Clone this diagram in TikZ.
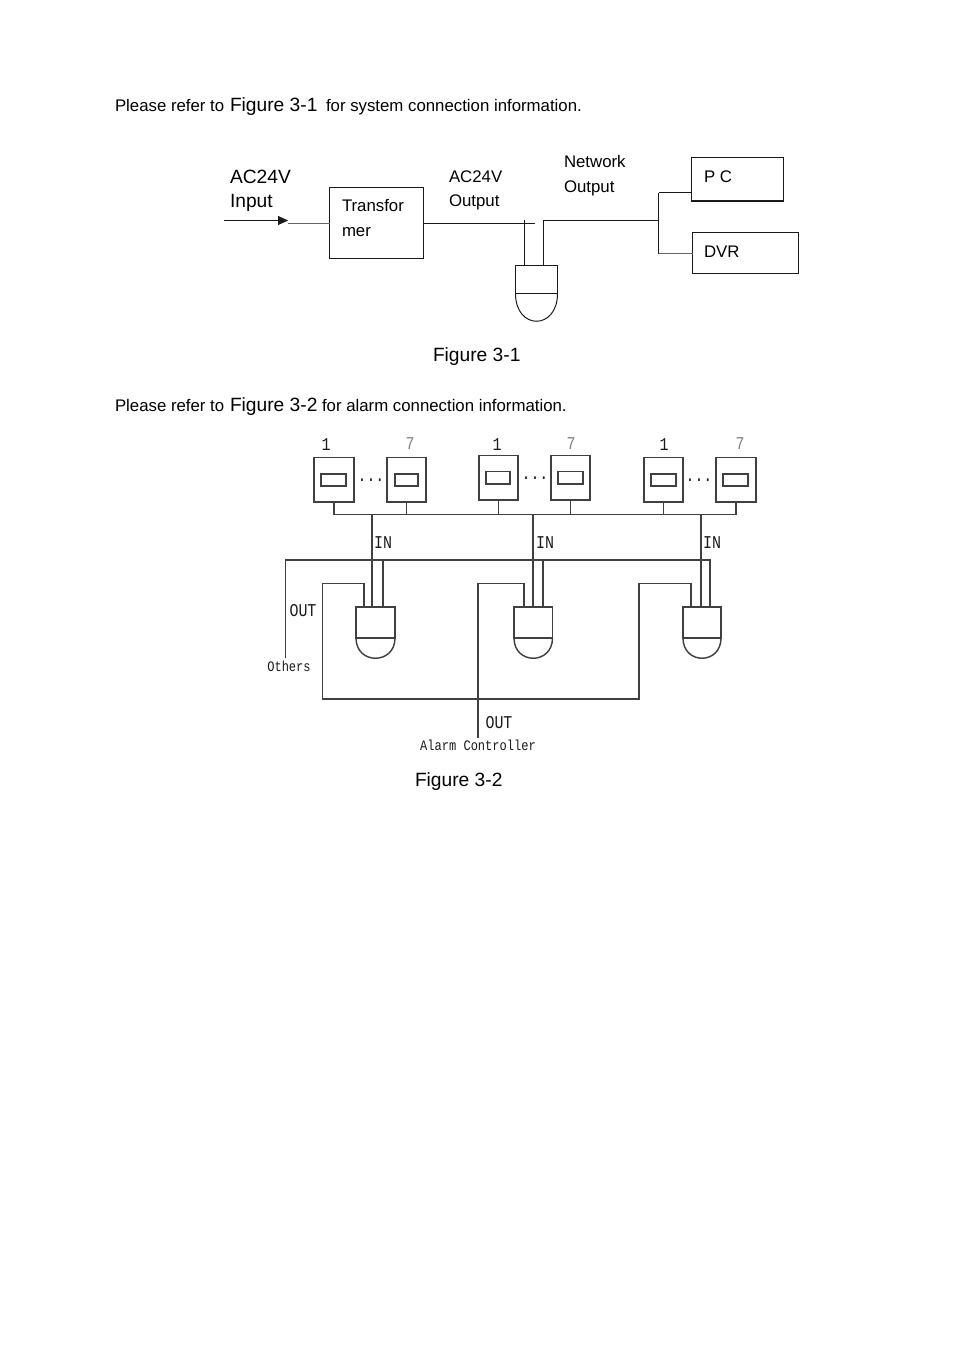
\documentclass[tikz,border=0pt]{standalone}
\usepackage{fontspec}
\setmainfont{Liberation Sans}
\newfontfamily\pixfont[FakeStretch=0.83]{Liberation Mono}
\usetikzlibrary{arrows.meta}
\definecolor{ink}{HTML}{1A1A1A}
\definecolor{soft}{HTML}{404040}
\newcommand{\mkbox}[5]{\node[boxn,minimum width=#4-#2,minimum height=#5-#3] (#1) at ({(#2+#4)/2},{(#3+#5)/2}) {};}
\newcommand{\mkdome}[6]{\node[boxn,minimum width=#3-#2,minimum height=#5-#4] (#1) at ({(#2+#3)/2},{(#4+#5)/2}) {};
 \draw[wire] (#1.south west) .. controls +(0,#6) and +(0,#6) .. (#1.south east);}
\tikzset{
 x=1pt,y=-1pt,
 wire/.style={draw=ink,line width=1pt},
 boxn/.style={draw=ink,line width=1pt,fill=white,inner sep=0pt,outer sep=0pt},
 txt/.style={anchor=base west,inner sep=0pt,outer sep=0pt,text=black,font=\fontsize{16.8}{20}\selectfont},
 big/.style={anchor=base west,inner sep=0pt,outer sep=0pt,text=black,font=\fontsize{19.2}{23}\selectfont},
 pix/.style={anchor=base,inner sep=0pt,outer sep=0pt,text=ink,font=\pixfont\fontsize{18}{20}\selectfont},
 pixs/.style={anchor=base,inner sep=0pt,outer sep=0pt,text=ink,font=\pixfont\fontsize{14.5}{16}\selectfont},
 one/.style={pix},
 seven/.style={pix,text=gray},
 softlines/.style={wire/.append style={draw=soft,line width=1.45pt},boxn/.append style={draw=soft,line width=1.45pt}},
}
\begin{document}
\begin{tikzpicture}
\useasboundingbox (0,0) rectangle (954,1350);
% text paragraphs
\node[txt] (p1a) at (115,111) {Please refer to};
\node[big] (p1b) at (230,111) {Figure 3-1};
\node[txt] (p1c) at (326,111) {for system connection information.};
\node[txt] (p2a) at (115,411) {Please refer to};
\node[big] (p2b) at (230,411) {Figure 3-2};
\node[txt] (p2c) at (322,411) {for alarm connection information.};
\node[big] (cap1) at (433,361) {Figure 3-1};
\node[big] (cap2) at (415,786) {Figure 3-2};
% Figure 3-1
\node[big] (ac1) at (230,183) {AC24V};
\node[big] (ac2) at (230,207) {Input};
\node[txt] (ao1) at (449,182) {AC24V};
\node[txt] (ao2) at (449,206) {Output};
\node[txt] (no1) at (564,167) {Network};
\node[txt] (no2) at (564,192) {Output};
\mkbox{trans}{329.5}{187.5}{423.5}{258.5}
\node[txt] (t1) at (342,211) {Transfor};
\node[txt] (t2) at (342,236) {mer};
\mkbox{pc}{691.5}{157.5}{783.5}{201}
\draw[wire,line width=1.6pt] (pc.south west) -- (pc.south east);
\node[txt] (pct) at (704,182) {P C};
\mkbox{dvr}{692.5}{232.5}{798.5}{273.5}
\node[txt] (dvrt) at (704,257) {DVR};
\mkdome{cam0}{515.5}{557.5}{265.5}{293.5}{37}
\draw[wire,line width=1.8pt] (cam0.south west) -- (cam0.north west) -- (cam0.north east);
\coordinate (arrS) at (224,220.5);
\coordinate (arrE) at (288,220.5);
\coordinate (arrT) at (288,223.5);
\draw[wire,-{Triangle[length=10pt,width=9pt]}] (arrS) -- (arrE);
\draw[wire,gray!80!black,line width=1.2pt] (arrT) -- (arrT -| trans.west);
\coordinate (acEnd) at (535,223.5);
\draw[wire] (trans.east |- acEnd) -- (acEnd);
\coordinate (acTop) at (524.5,220);
\draw[wire] (acTop) -- (acTop |- cam0.north);
\coordinate (netTop) at (543.5,220.5);
\coordinate (netJ) at (658.5,220.5);
\draw[wire] (netTop |- cam0.north) -- (netTop) -- (netJ);
\coordinate (pcJ) at (658.5,192.5);
\coordinate (dvrJ) at (658.5,253.5);
\draw[wire,line width=1.3pt] (pcJ) -- (dvrJ);
\draw[wire] (pcJ) -- (pcJ -| pc.west);
\draw[wire,gray!80!black,line width=1.2pt] (dvrJ) -- (dvrJ -| dvr.west);
% Figure 3-2
\begin{scope}[softlines]
\mkbox{sa}{314}{457.5}{354}{502}
\mkbox{sai}{321}{474}{346}{486}
\mkbox{sb}{387}{457.5}{426}{502}
\mkbox{sbi}{395}{474}{418}{486}
\mkbox{sc}{479}{455.5}{518}{500}
\mkbox{sci}{486}{471.5}{510}{484}
\mkbox{sd}{551}{455.5}{590}{500}
\mkbox{sdi}{558}{471.5}{583}{484}
\mkbox{se}{644}{457.5}{683}{502}
\mkbox{sei}{651}{474}{676}{486}
\mkbox{sf}{716}{457.5}{756}{502}
\mkbox{sfi}{723}{474}{748}{486}
\node[pix] (d1) at (371,481) {...};
\node[pix] (d2) at (535,479) {...};
\node[pix] (d3) at (699,481) {...};
\node[one] (n1a) at (326,450) {1};
\node[seven] (n7a) at (410,449) {7};
\node[one] (n1b) at (497,450) {1};
\node[seven] (n7b) at (571,449) {7};
\node[one] (n1c) at (664,450) {1};
\node[seven] (n7c) at (740,449) {7};
% bus
\coordinate (busL) at (335,514.5);
\coordinate (busR) at (737,514.5);
\draw[wire] (sa.south |- busL) -- (busR -| sf.south);
\foreach \s in {sa,sb,sc,sd,se,sf} \draw[wire] (\s.south) -- (\s.south |- busL);
% cameras
\mkdome{ca}{356}{395}{607}{638}{27}
\mkdome{cb}{514}{552.5}{607}{638}{27}
\mkdome{cc}{683}{721}{607}{638}{27}
% IN lines
\coordinate (ina) at (372,514.5);
\coordinate (inb) at (533,514.5);
\coordinate (inc) at (701,514.5);
\foreach \c/\p in {ca/ina,cb/inb,cc/inc} \draw[wire] (\p) -- (\p |- \c.north);
\node[pix] (ia) at (383,548) {IN};
\node[pix] (ib) at (545,548) {IN};
\node[pix] (ic) at (712,548) {IN};
% Others line
\coordinate (othB) at (285.5,658);
\coordinate (othT) at (285.5,560);
\coordinate (othR) at (710,560);
\draw[wire] (othB) -- (othT) -- (othR) -- (othR |- cc.north);
\coordinate (oa) at (383,560);
\coordinate (ob) at (543,560);
\draw[wire] (oa) -- (oa |- ca.north);
\draw[wire] (ob) -- (ob |- cb.north);
\node[pix] (outa) at (303,616) {OUT};
\node[pixs] (oth) at (289,671.5) {Others};
% Alarm loop
\coordinate (la) at (322.5,583.5);
\coordinate (lb) at (322.5,699);
\coordinate (lc) at (639,699);
\coordinate (ld) at (639,583.5);
\coordinate (ca1) at (364,583.5);
\coordinate (cc1) at (691,583.5);
\draw[wire] (ca1 |- ca.north) -- (ca1) -- (la) -- (lb) -- (lc) -- (ld) -- (cc1) -- (cc1 |- cc.north);
\coordinate (ma) at (478,583.5);
\coordinate (mb) at (524,583.5);
\coordinate (mc) at (478,738);
\draw[wire] (mc) -- (ma) -- (mb) -- (mb |- cb.north);
\node[pix] (outb) at (499,728.5) {OUT};
\node[pixs] (alarm) at (478,750.5) {Alarm Controller};
\end{scope}
\end{tikzpicture}
\end{document}
